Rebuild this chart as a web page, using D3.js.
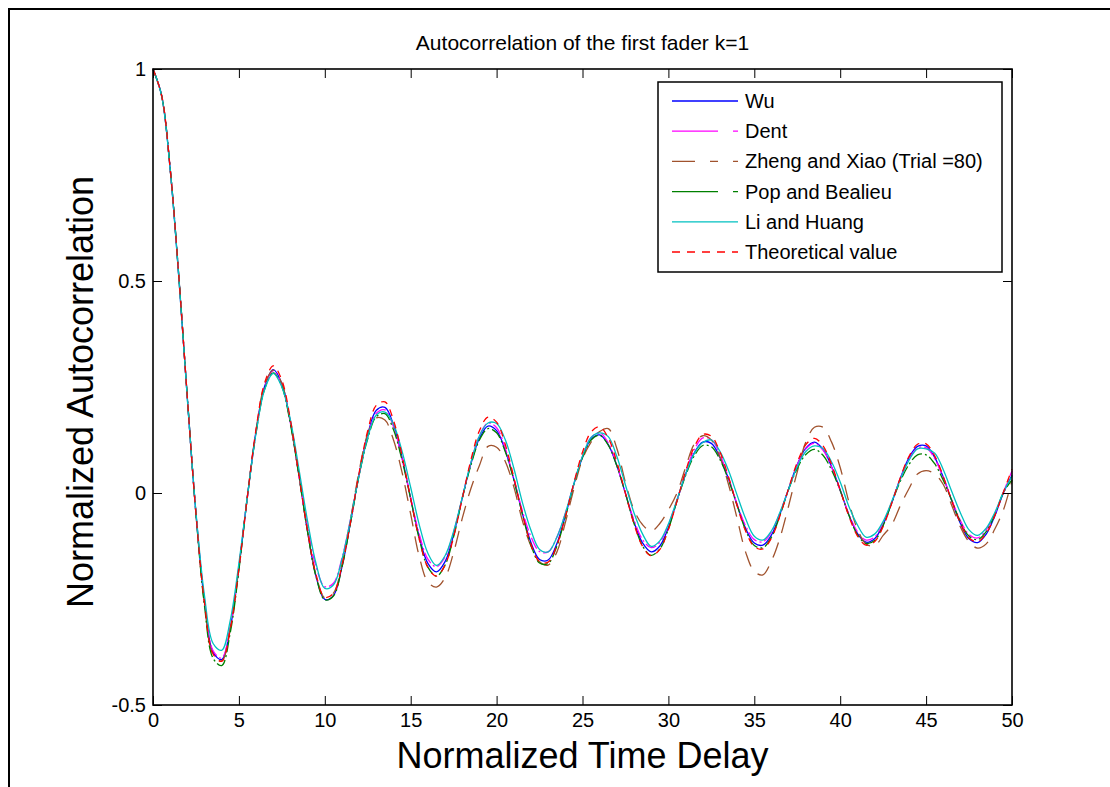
<!DOCTYPE html>
<html>
<head>
<meta charset="utf-8">
<script src="https://cdn.jsdelivr.net/npm/d3@7"></script>
<style>
  html, body { margin: 0; padding: 0; background: #fff; }
  svg { display: block; font-family: "Liberation Sans", Arial, sans-serif; }
</style>
</head>
<body>
<div id="chart"></div>
<script>
// Data (normalized autocorrelation sampled every 0.5 of normalized delay)
const delays = [
  0, 0.5, 1, 1.5, 2, 2.5, 3, 3.5, 4, 4.5,
  5, 5.5, 6, 6.5, 7, 7.5, 8, 8.5, 9, 9.5,
  10, 10.5, 11, 11.5, 12, 12.5, 13, 13.5, 14, 14.5,
  15, 15.5, 16, 16.5, 17, 17.5, 18, 18.5, 19, 19.5,
  20, 20.5, 21, 21.5, 22, 22.5, 23, 23.5, 24, 24.5,
  25, 25.5, 26, 26.5, 27, 27.5, 28, 28.5, 29, 29.5,
  30, 30.5, 31, 31.5, 32, 32.5, 33, 33.5, 34, 34.5,
  35, 35.5, 36, 36.5, 37, 37.5, 38, 38.5, 39, 39.5,
  40, 40.5, 41, 41.5, 42, 42.5, 43, 43.5, 44, 44.5,
  45, 45.5, 46, 46.5, 47, 47.5, 48, 48.5, 49, 49.5,
  50
];

const wu = [
  1.000, 0.938, 0.764, 0.511, 0.223, -0.048, -0.257, -0.376, -0.393, -0.318,
  -0.176, -0.007, 0.146, 0.252, 0.291, 0.258, 0.167, 0.041, -0.092, -0.198,
  -0.251, -0.242, -0.174, -0.069, 0.045, 0.138, 0.195, 0.202, 0.161, 0.083,
  -0.013, -0.104, -0.166, -0.186, -0.162, -0.098, -0.012, 0.068, 0.129, 0.158,
  0.147, 0.101, 0.033, -0.048, -0.117, -0.157, -0.158, -0.120, -0.054, 0.021,
  0.084, 0.127, 0.137, 0.114, 0.064, -0.001, -0.069, -0.118, -0.139, -0.125,
  -0.081, -0.018, 0.044, 0.094, 0.120, 0.117, 0.084, 0.033, -0.028, -0.084,
  -0.118, -0.123, -0.099, -0.049, 0.010, 0.067, 0.106, 0.120, 0.103, 0.062,
  0.007, -0.051, -0.095, -0.116, -0.108, -0.074, -0.023, 0.035, 0.083, 0.110,
  0.111, 0.084, 0.037, -0.019, -0.072, -0.108, -0.117, -0.097, -0.054, 0.000,
  0.042
];

const dent = [
  1.000, 0.938, 0.765, 0.512, 0.224, -0.047, -0.255, -0.372, -0.389, -0.315,
  -0.174, -0.007, 0.145, 0.250, 0.288, 0.255, 0.165, 0.040, -0.081, -0.175,
  -0.221, -0.213, -0.154, -0.061, 0.044, 0.134, 0.188, 0.196, 0.156, 0.080,
  -0.012, -0.097, -0.156, -0.174, -0.151, -0.092, -0.012, 0.071, 0.135, 0.165,
  0.154, 0.106, 0.034, -0.042, -0.103, -0.138, -0.139, -0.105, -0.048, 0.022,
  0.087, 0.131, 0.142, 0.118, 0.066, -0.001, -0.064, -0.110, -0.129, -0.116,
  -0.075, -0.017, 0.048, 0.102, 0.130, 0.126, 0.091, 0.036, -0.026, -0.078,
  -0.110, -0.115, -0.092, -0.046, 0.010, 0.066, 0.104, 0.117, 0.101, 0.061,
  0.006, -0.049, -0.091, -0.111, -0.104, -0.071, -0.022, 0.033, 0.079, 0.106,
  0.107, 0.081, 0.036, -0.017, -0.065, -0.098, -0.106, -0.087, -0.049, 0.002,
  0.052
];

const zheng = [
  1.000, 0.937, 0.763, 0.512, 0.225, -0.050, -0.262, -0.381, -0.396, -0.318,
  -0.175, -0.005, 0.148, 0.255, 0.290, 0.258, 0.165, 0.038, -0.092, -0.195,
  -0.247, -0.236, -0.168, -0.062, 0.052, 0.140, 0.177, 0.172, 0.125, 0.048,
  -0.050, -0.150, -0.210, -0.222, -0.200, -0.140, -0.060, 0.010, 0.065, 0.110,
  0.108, 0.075, 0.015, -0.065, -0.125, -0.162, -0.170, -0.140, -0.070, 0.010,
  0.080, 0.120, 0.145, 0.152, 0.105, 0.025, -0.040, -0.075, -0.090, -0.072,
  -0.040, 0.000, 0.060, 0.115, 0.135, 0.125, 0.085, 0.020, -0.060, -0.140,
  -0.185, -0.193, -0.160, -0.105, -0.030, 0.050, 0.120, 0.155, 0.155, 0.120,
  0.060, -0.020, -0.085, -0.120, -0.125, -0.100, -0.075, -0.030, 0.010, 0.045,
  0.053, 0.045, 0.020, -0.030, -0.080, -0.115, -0.130, -0.120, -0.085, -0.040,
  0.030
];

const pop = [
  1.000, 0.938, 0.766, 0.513, 0.225, -0.049, -0.267, -0.390, -0.407, -0.329,
  -0.182, -0.007, 0.142, 0.245, 0.283, 0.251, 0.162, 0.040, -0.092, -0.199,
  -0.252, -0.243, -0.175, -0.070, 0.042, 0.128, 0.180, 0.187, 0.149, 0.077,
  -0.014, -0.109, -0.175, -0.196, -0.170, -0.103, -0.013, 0.065, 0.125, 0.152,
  0.142, 0.098, 0.031, -0.050, -0.123, -0.165, -0.166, -0.126, -0.057, 0.021,
  0.084, 0.125, 0.136, 0.113, 0.064, -0.001, -0.072, -0.125, -0.147, -0.132,
  -0.085, -0.019, 0.041, 0.087, 0.112, 0.109, 0.079, 0.031, -0.029, -0.088,
  -0.124, -0.129, -0.104, -0.052, 0.009, 0.058, 0.091, 0.103, 0.089, 0.054,
  0.006, -0.052, -0.098, -0.119, -0.112, -0.077, -0.023, 0.028, 0.067, 0.090,
  0.090, 0.069, 0.030, -0.018, -0.068, -0.102, -0.110, -0.091, -0.051, 0.001,
  0.031
];

const li = [
  1.000, 0.937, 0.763, 0.510, 0.222, -0.045, -0.243, -0.355, -0.371, -0.300,
  -0.166, -0.007, 0.142, 0.244, 0.282, 0.250, 0.172, 0.055, -0.067, -0.168,
  -0.225, -0.217, -0.156, -0.062, 0.043, 0.131, 0.184, 0.191, 0.162, 0.098,
  0.013, -0.075, -0.142, -0.171, -0.148, -0.090, -0.011, 0.071, 0.135, 0.165,
  0.164, 0.126, 0.059, -0.022, -0.088, -0.133, -0.139, -0.105, -0.048, 0.022,
  0.087, 0.131, 0.142, 0.133, 0.086, 0.019, -0.047, -0.097, -0.126, -0.113,
  -0.073, -0.016, 0.044, 0.093, 0.119, 0.125, 0.098, 0.053, -0.005, -0.061,
  -0.102, -0.111, -0.089, -0.045, 0.009, 0.062, 0.098, 0.111, 0.105, 0.073,
  0.026, -0.031, -0.075, -0.104, -0.097, -0.067, -0.020, 0.032, 0.077, 0.104,
  0.104, 0.094, 0.055, 0.003, -0.047, -0.087, -0.100, -0.083, -0.046, 0.002,
  0.040
];

const theory = [
  1.000, 0.938, 0.765, 0.512, 0.224, -0.048, -0.260, -0.380, -0.397, -0.321,
  -0.178, -0.007, 0.151, 0.260, 0.300, 0.266, 0.172, 0.042, -0.090, -0.194,
  -0.246, -0.237, -0.171, -0.068, 0.048, 0.147, 0.207, 0.215, 0.171, 0.088,
  -0.014, -0.109, -0.175, -0.196, -0.170, -0.103, -0.013, 0.077, 0.147, 0.179,
  0.167, 0.115, 0.037, -0.049, -0.121, -0.162, -0.163, -0.124, -0.056, 0.024,
  0.096, 0.144, 0.156, 0.130, 0.073, -0.001, -0.073, -0.126, -0.148, -0.133,
  -0.086, -0.019, 0.051, 0.108, 0.138, 0.134, 0.097, 0.038, -0.030, -0.090,
  -0.127, -0.132, -0.106, -0.053, 0.011, 0.072, 0.114, 0.129, 0.111, 0.067,
  0.007, -0.054, -0.101, -0.123, -0.115, -0.079, -0.024, 0.036, 0.086, 0.115,
  0.116, 0.088, 0.039, -0.019, -0.071, -0.106, -0.115, -0.095, -0.053, 0.002,
  0.056
];

const seriesNames = ["Wu", "Dent", "Zheng and Xiao (Trial =80)", "Pop and Bealieu", "Li and Huang", "Theoretical value"];
const seriesValues = [wu, dent, zheng, pop, li, theory];

const xTicks = [0, 5, 10, 15, 20, 25, 30, 35, 40, 45, 50];
const yTicks = [-0.5, 0, 0.5, 1];
const yTickLabels = ["-0.5", "0", "0.5", "1"];

// Styles
const colors = ["#0000ff", "#ff00ff", "#a0522d", "#008000", "#00c0c0", "#ff0000"];
const plotDash = [null, "12,3,2,3", "16,10", "12,3,2,3", null, "7,6"];
const legendDash = [null, "46,15,5,15", "23,15,8,15,5,10", "46,15,5,15", null, "8,7"];

// Dimensions
const dims = { width: 1110, height: 787, left: 153, right: 1012, top: 69, bottom: 705 };

const svg = d3.select("#chart")
  .append("svg")
  .attr("width", dims.width)
  .attr("height", dims.height);

// Outer figure frame (top and left edges only visible)
svg.append("path")
  .attr("d", `M9,${dims.height} V9 H${dims.width}`)
  .attr("fill", "none")
  .attr("stroke", "#000")
  .attr("stroke-width", 2);

// Scales
const xScale = d3.scaleLinear().domain([0, 50]).range([dims.left, dims.right]);
const yScale = d3.scaleLinear().domain([-0.5, 1]).range([dims.bottom, dims.top]);

// Lines
const line = d3.line()
  .x((d, i) => xScale(delays[i]))
  .y((d) => yScale(d))
  .curve(d3.curveCatmullRom);

const lines = svg.append("g");
seriesValues.forEach((vals, i) => {
  lines.append("path")
    .datum(vals)
    .attr("d", line)
    .attr("fill", "none")
    .attr("stroke", colors[i])
    .attr("stroke-width", 1.3)
    .attr("stroke-dasharray", plotDash[i]);
});

// Axes (MATLAB box with inward ticks on all sides)
const xAxis = d3.axisBottom(xScale).tickValues(xTicks).tickSize(-9).tickPadding(8).tickFormat(d3.format("d"));
const xAxisTop = d3.axisTop(xScale).tickValues(xTicks).tickSize(-9).tickFormat("");
const yAxis = d3.axisLeft(yScale).tickValues(yTicks).tickSize(-9).tickPadding(7)
  .tickFormat((d, i) => yTickLabels[i]);
const yAxisRight = d3.axisRight(yScale).tickValues(yTicks).tickSize(-9).tickFormat("");

const axes = [
  svg.append("g").attr("transform", `translate(0,${dims.bottom})`).call(xAxis),
  svg.append("g").attr("transform", `translate(0,${dims.top})`).call(xAxisTop),
  svg.append("g").attr("transform", `translate(${dims.left},0)`).call(yAxis),
  svg.append("g").attr("transform", `translate(${dims.right},0)`).call(yAxisRight),
];
axes.forEach((g) => {
  g.select(".domain").remove();
  g.selectAll(".tick line").attr("stroke", "#000").attr("stroke-width", 1);
  g.selectAll(".tick text")
    .attr("fill", "#000")
    .style("font-size", "20px")
    .style("font-family", '"Liberation Sans", Arial, sans-serif');
});

svg.append("rect")
  .attr("x", dims.left)
  .attr("y", dims.top)
  .attr("width", dims.right - dims.left)
  .attr("height", dims.bottom - dims.top)
  .attr("fill", "none")
  .attr("stroke", "#000")
  .attr("stroke-width", 1.6);

// Title and axis labels
svg.append("text")
  .attr("x", (dims.left + dims.right) / 2)
  .attr("y", 50)
  .attr("text-anchor", "middle")
  .style("font-size", "21px")
  .text("Autocorrelation of the first fader k=1");

svg.append("text")
  .attr("x", (dims.left + dims.right) / 2)
  .attr("y", 768)
  .attr("text-anchor", "middle")
  .style("font-size", "36px")
  .text("Normalized Time Delay");

svg.append("text")
  .attr("transform", `translate(93,392) rotate(-90)`)
  .attr("text-anchor", "middle")
  .style("font-size", "36px")
  .text("Normalized Autocorrelation");

// Legend
const legend = svg.append("g");
legend.append("rect")
  .attr("x", 658)
  .attr("y", 82)
  .attr("width", 344)
  .attr("height", 190)
  .attr("fill", "#fff")
  .attr("stroke", "#000")
  .attr("stroke-width", 1.5);

seriesNames.forEach((name, i) => {
  const y = 101 + i * 30.2;
  legend.append("line")
    .attr("x1", 672)
    .attr("x2", 738)
    .attr("y1", y)
    .attr("y2", y)
    .attr("stroke", colors[i])
    .attr("stroke-width", 1.3)
    .attr("stroke-dasharray", legendDash[i]);
  legend.append("text")
    .attr("x", 745)
    .attr("y", y + 7)
    .style("font-size", "20px")
    .text(name);
});
</script>
</body>
</html>
